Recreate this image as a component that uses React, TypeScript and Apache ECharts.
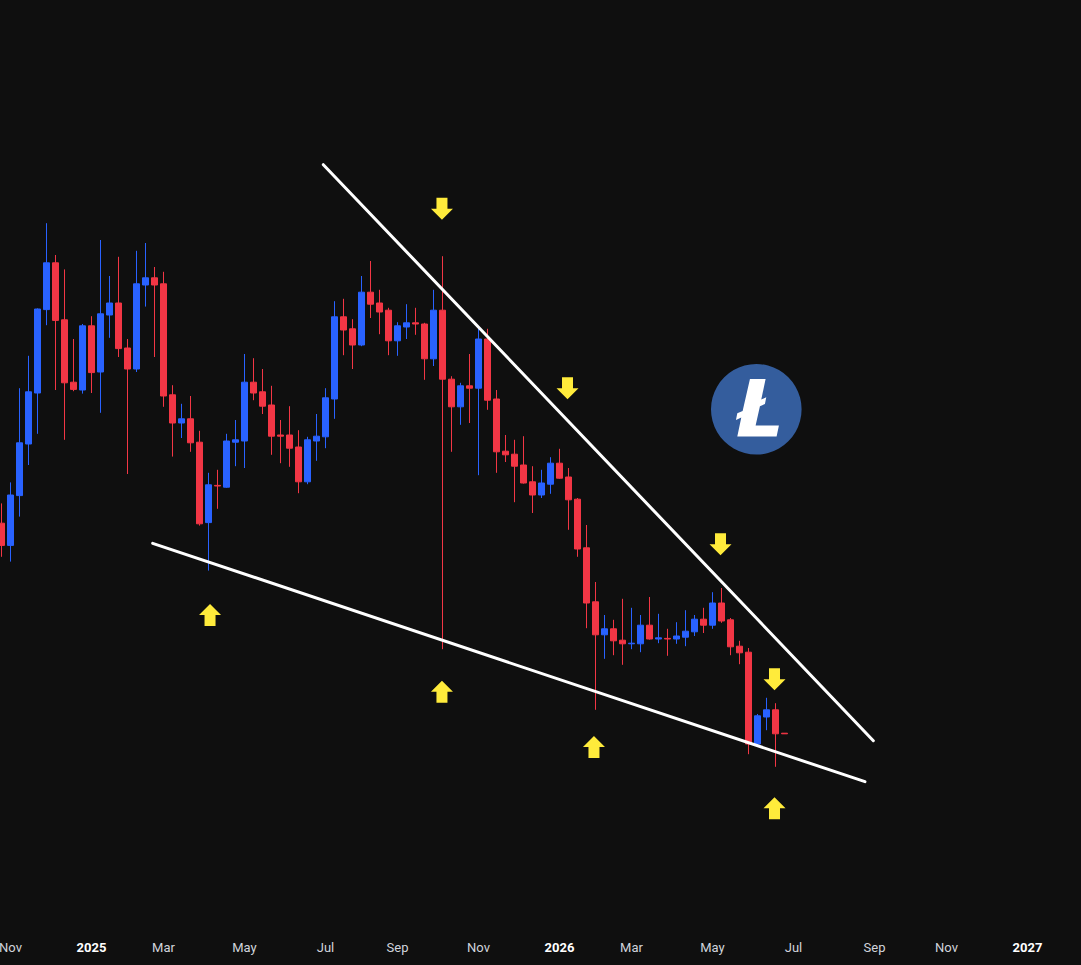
import React, { useEffect, useRef } from 'react';
import * as echarts from 'echarts';

// Weekly bars (Monday open), first bar: 28 Oct 2024
const FIRST_WEEK_UTC = Date.UTC(2024, 9, 28);
const WEEK_COUNT = 120; // includes empty future weeks on the right
const MONTH_NAMES = ['Jan', 'Feb', 'Mar', 'Apr', 'May', 'Jun', 'Jul', 'Aug', 'Sep', 'Oct', 'Nov', 'Dec'];
const LABEL_MONTHS = [0, 2, 4, 6, 8, 10];

const weekOpen = [
  92.8, 89.1, 97.4, 106.0, 114.5, 128.4, 136.2, 126.7, 116.3, 115.0,
  125.7, 118.0, 127.5, 129.5, 122.0, 118.5, 132.5, 133.7, 132.7, 114.2,
  109.5, 110.2, 106.3, 92.9, 99.1, 98.8, 106.3, 106.5, 116.3, 114.7,
  112.5, 107.5, 107.5, 105.5, 99.7, 106.5, 107.2, 113.5, 127.2, 125.2,
  122.5, 131.3, 129.5, 128.3, 123.2, 125.5, 126.2, 126.0, 120.2, 128.3,
  116.8, 112.2, 115.7, 115.3, 123.5, 113.5, 104.8, 104.3, 102.5, 99.7,
  97.5, 99.3, 102.8, 100.5, 96.8, 88.7, 79.7, 74.2, 75.2, 73.3,
  72.7, 72.7, 75.8, 73.5, 73.6, 73.5, 73.8, 74.7, 76.8, 75.8,
  79.5, 76.7, 72.3, 71.3, 56.0, 60.5, 61.7, 57.8,
];
const weekClose = [
  89.1, 97.5, 106.2, 114.7, 128.5, 136.2, 126.6, 116.2, 115.1, 125.7,
  117.9, 127.7, 129.5, 121.9, 118.5, 132.7, 133.7, 132.5, 114.0, 109.5,
  110.2, 106.2, 92.7, 99.2, 99.0, 106.5, 106.7, 116.3, 114.5, 112.3,
  107.3, 107.3, 105.3, 99.7, 106.7, 107.3, 113.7, 127.2, 125.0, 122.5,
  131.3, 129.3, 128.0, 123.2, 125.7, 126.2, 126.0, 120.2, 128.3, 116.8,
  112.2, 115.7, 115.3, 123.5, 113.3, 104.7, 104.2, 102.3, 99.5, 97.5,
  99.5, 102.8, 100.3, 96.7, 88.5, 79.5, 74.2, 75.2, 73.2, 72.7,
  72.8, 75.8, 73.5, 73.7, 73.5, 74.0, 74.8, 76.8, 75.8, 79.5,
  76.5, 72.2, 71.2, 56.0, 60.7, 61.7, 57.7, 57.7,
];
const weekLow = [
  87.2, 86.4, 93.9, 102.5, 107.7, 125.8, 115.0, 106.7, 114.8, 114.4,
  114.5, 111.2, 123.7, 120.5, 101.0, 118.0, 128.9, 120.5, 112.2, 103.9,
  107.0, 104.7, 92.4, 84.9, 95.2, 98.7, 102.3, 102.0, 113.3, 111.0,
  104.2, 102.8, 102.2, 97.8, 99.3, 103.2, 105.3, 110.2, 120.8, 118.5,
  122.3, 127.0, 124.3, 120.8, 120.7, 123.5, 124.2, 116.7, 119.0, 71.8,
  104.7, 109.2, 109.5, 100.8, 111.7, 101.2, 103.0, 96.3, 99.4, 94.5,
  97.0, 97.7, 100.2, 91.7, 87.2, 75.3, 61.7, 70.2, 70.8, 69.2,
  71.8, 71.3, 73.4, 72.8, 70.7, 72.7, 72.3, 74.0, 74.5, 75.2,
  76.2, 70.8, 69.3, 54.3, 55.5, 58.3, 52.2, 57.7,
];
const weekHigh = [
  96.1, 99.6, 115.3, 120.7, 128.6, 142.8, 137.5, 135.1, 123.5, 126.0,
  127.3, 140.0, 134.0, 137.2, 123.5, 138.2, 139.5, 135.5, 134.7, 115.8,
  112.7, 114.0, 108.2, 101.2, 101.7, 107.7, 110.0, 121.0, 120.3, 118.5,
  115.7, 110.0, 112.3, 108.3, 107.2, 111.0, 115.3, 129.8, 130.2, 126.8,
  134.0, 136.5, 131.7, 128.7, 126.3, 129.3, 128.7, 126.2, 131.7, 137.3,
  117.3, 116.2, 121.0, 125.2, 125.2, 115.0, 107.5, 106.7, 107.3, 102.3,
  101.7, 103.8, 105.2, 102.0, 97.0, 92.5, 83.0, 77.5, 76.7, 80.2,
  78.7, 77.5, 80.5, 77.7, 75.2, 76.3, 78.3, 77.5, 78.7, 81.3,
  82.0, 77.0, 73.2, 72.0, 61.0, 63.7, 62.8, 57.8,
];

// Drawn trendlines: [bar position, price]
const upperTrend = [[35.76, 152.55], [96.87, 56.55]];
const lowerTrend = [[16.8, 89.45], [95.94, 49.72]];

// Marker arrows: bar position and price
const downArrowBar = [48.94, 62.89, 79.89, 85.89];
const downArrowPrice = [145.2, 115.3, 89.3, 66.8];
const upArrowBar = [23.17, 48.94, 65.83, 85.89];
const upArrowPrice = [77.5, 64.7, 55.5, 45.3];

const UP_COLOR = '#2962ff';
const DOWN_COLOR = '#f23645';
const ARROW_COLOR = '#ffeb3b';
const BG = '#0f0f0f';
const FONT = 'Roboto, "Noto Sans", sans-serif';

const DOWN_ARROW = 'path://M5.5,0L16.5,0L16.5,11L22,11L11,22L0,11L5.5,11Z';
const UP_ARROW = 'path://M11,0L22,11L16.5,11L16.5,22L5.5,22L5.5,11L0,11Z';

// Litecoin "Ł" glyph outline (local units, scaled 1/3)
const LOGO_POINTS = [
  [150, 72], [197, 72], [184, 134], [199, 127], [195, 147], [180, 154],
  [167, 212], [237, 212], [230, 245], [112, 245], [124, 188], [108, 195],
  [112, 175], [128, 168],
];

const weeks = Array.from({ length: WEEK_COUNT }, (_, i) =>
  new Date(FIRST_WEEK_UTC + i * 7 * 86400000).toISOString().slice(0, 10)
);

function parseWeek(v: string) {
  const d = new Date(v + 'T00:00:00Z');
  return { y: d.getUTCFullYear(), m: d.getUTCMonth(), day: d.getUTCDate() };
}

export default function App() {
  const ref = useRef<HTMLDivElement>(null);

  useEffect(() => {
    if (!ref.current) return;
    const chart = echarts.init(ref.current, null, { renderer: 'svg' });
    const candles = weekOpen.map((o, i) => [o, weekClose[i], weekLow[i], weekHigh[i]]);

    chart.setOption({
      animation: false,
      backgroundColor: BG,
      textStyle: { fontFamily: FONT },
      grid: { left: -3, right: 4, top: 0, bottom: 35, containLabel: false, outerBoundsMode: 'none' },
      xAxis: [
        {
          type: 'category',
          data: weeks,
          boundaryGap: true,
          axisLine: { show: false },
          axisTick: { show: false },
          splitLine: { show: false },
          axisLabel: {
            margin: 11,
            interval: (_idx: number, val: string) => {
              const p = parseWeek(val);
              return p.day <= 7 && LABEL_MONTHS.includes(p.m);
            },
            formatter: (val: string) => {
              const p = parseWeek(val);
              return p.m === 0 ? `{yr|${p.y}}` : `{mo|${MONTH_NAMES[p.m]}}`;
            },
            rich: {
              yr: { color: '#ffffff', fontWeight: 'bold', fontSize: 13, fontFamily: FONT },
              mo: { color: '#d1d4dc', fontSize: 13, fontFamily: FONT },
            },
          },
        },
        { type: 'value', min: -0.5, max: WEEK_COUNT - 0.5, show: false, gridIndex: 0 },
      ],
      yAxis: { type: 'value', min: 25, max: 180, show: false, splitLine: { show: false } },
      series: [
        {
          type: 'candlestick',
          data: candles,
          barWidth: 6,
          itemStyle: {
            color: UP_COLOR,
            color0: DOWN_COLOR,
            borderColor: UP_COLOR,
            borderColor0: DOWN_COLOR,
            borderWidth: 1,
          },
          z: 2,
        },
        {
          type: 'line',
          xAxisIndex: 1,
          data: upperTrend,
          symbol: 'none',
          lineStyle: { color: '#ffffff', width: 3, cap: 'round', opacity: 1 },
          z: 3,
        },
        {
          type: 'line',
          xAxisIndex: 1,
          data: lowerTrend,
          symbol: 'none',
          lineStyle: { color: '#ffffff', width: 3, cap: 'round', opacity: 1 },
          z: 3,
        },
        {
          type: 'scatter',
          xAxisIndex: 1,
          data: downArrowBar.map((x, i) => [x, downArrowPrice[i]]),
          symbol: DOWN_ARROW,
          symbolSize: [22, 22],
          itemStyle: { color: ARROW_COLOR, opacity: 1 },
          z: 4,
        },
        {
          type: 'scatter',
          xAxisIndex: 1,
          data: upArrowBar.map((x, i) => [x, upArrowPrice[i]]),
          symbol: UP_ARROW,
          symbolSize: [22, 22],
          itemStyle: { color: ARROW_COLOR, opacity: 1 },
          z: 4,
        },
      ],
      graphic: [
        {
          type: 'circle',
          shape: { cx: 756.3, cy: 409.3, r: 45.3 },
          style: { fill: '#345d9d' },
          z: 10,
        },
        {
          type: 'polygon',
          x: 700,
          y: 355,
          scaleX: 1 / 3,
          scaleY: 1 / 3,
          shape: { points: LOGO_POINTS },
          style: { fill: '#ffffff' },
          z: 11,
        },
      ],
    });

    return () => chart.dispose();
  }, []);

  return (
    <div
      ref={ref}
      style={{ position: 'absolute', left: 0, top: 0, width: 1081, height: 965, background: BG }}
    />
  );
}
